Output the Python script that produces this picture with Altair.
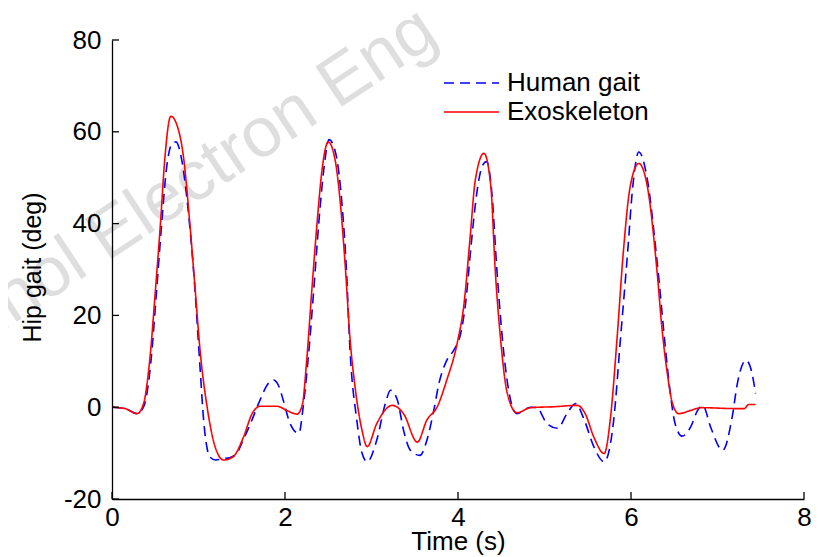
import altair as alt
import pandas as pd

# ---- data ----
human_time = [0, 0.15, 0.29, 0.37, 0.45, 0.51, 0.57, 0.63, 0.69, 0.74, 0.80, 0.88, 0.95, 1.02, 1.06, 1.10,
              1.13, 1.20, 1.29, 1.36, 1.44, 1.52, 1.60, 1.71, 1.80, 1.87, 1.93, 1.98, 2.06, 2.16, 2.21, 2.27,
              2.33, 2.39, 2.45, 2.51, 2.59, 2.66, 2.71, 2.75, 2.83, 2.89, 2.95, 3.06, 3.16, 3.22, 3.30, 3.37,
              3.45, 3.56, 3.64, 3.72, 3.78, 3.87, 3.95, 4.03, 4.09, 4.15, 4.22, 4.28, 4.33, 4.39, 4.45, 4.53,
              4.63, 4.68, 4.84, 4.91, 5.03, 5.15, 5.26, 5.36, 5.46, 5.57, 5.69, 5.80, 5.88, 5.96, 6.02, 6.09,
              6.19, 6.30, 6.42, 6.46, 6.51, 6.59, 6.69, 6.77, 6.83, 6.92, 7.06, 7.17, 7.23, 7.33, 7.40, 7.44]
human_deg = [0, -0.3, -1.4, 0.3, 10, 24, 39, 52, 57.3, 57.8, 54.5, 43, 28, 8, -3, -9,
             -10.8, -11.5, -11.2, -11, -10.1, -7, -3.6, 1.5, 5, 5.9, 4.5, 1.5, -3.6, -5.7, 0, 11,
             25, 40, 52, 58.3, 55, 44, 30, 13, -2.8, -10, -11.9, -7.2, 0.8, 3.7, 1.5, -5,
             -9.4, -10.5, -7.2, -0.7, 5.2, 10.2, 12.4, 16, 23, 35, 47, 52.5, 53.5, 47, 29.8, 11.7,
             0, -1.4, 0, -0.1, -3.6, -4.6, -1.4, 0.8, -2.8, -8.6, -11.9, -2.8, 15.3, 33.5, 48, 55.6,
             49.5, 32, 8.8, 2.2, -3.6, -6.3, -4.3, -0.7, 0.4, -4.3, -9.4, -2.1, 5.2, 10.2, 7.3, 3]

exo_time = [0, 0.15, 0.29, 0.36, 0.44, 0.50, 0.56, 0.61, 0.68, 0.75, 0.83, 0.90, 0.96, 1.02, 1.10, 1.19,
            1.29, 1.40, 1.52, 1.62, 1.71, 1.91, 2.02, 2.14, 2.20, 2.25, 2.31, 2.37, 2.43, 2.50, 2.58, 2.64,
            2.70, 2.75, 2.81, 2.89, 2.95, 3.06, 3.24, 3.37, 3.53, 3.64, 3.76, 3.87, 3.99, 4.07, 4.14, 4.20,
            4.30, 4.38, 4.43, 4.49, 4.57, 4.68, 4.84, 5.11, 5.38, 5.47, 5.57, 5.69, 5.76, 5.84, 5.91, 5.99,
            6.09, 6.19, 6.30, 6.36, 6.42, 6.48, 6.55, 6.69, 6.81, 7.19, 7.31, 7.36, 7.44]
exo_deg = [0, -0.3, -1.4, 0.5, 11, 25, 40, 54, 63.4, 61.5, 54, 40, 26, 12, 0, -8.5,
           -11.5, -10.8, -6.5, -1.4, 0.2, 0.2, -0.7, -1.5, 0.5, 10, 25.5, 40, 52, 57.8, 53.8, 44.4,
           29.8, 15.3, 4.4, -5, -8.6, -3.6, 0.4, -1.4, -7.6, -2.8, 0.1, 5.9, 13.9, 22.6, 37, 49.5,
           55.3, 48, 30, 15.3, 3, -1.2, -0.1, 0.1, 0.4, -1.4, -6.5, -10.1, -2.8, 15.3, 33.5, 48,
           53.1, 48, 29.8, 16.8, 7.3, 0.8, -1.4, -0.7, -0.1, -0.3, -0.3, 0.6, 0.6]

series_names = ["Human gait", "Exoskeleton"]
series_colors = ["#0000ff", "#ff0000"]
series_dashes = [[10, 6], [1, 0]]
x_ticks = [0, 2, 4, 6, 8]
y_ticks = [-20, 0, 20, 40, 60, 80]
watermark = ["Technol Electron Eng"]

# ---- tables ----
df = pd.concat([
    pd.DataFrame({"time": human_time, "deg": human_deg, "series": series_names[0]}),
    pd.DataFrame({"time": exo_time, "deg": exo_deg, "series": series_names[1]}),
], ignore_index=True)

FONT = "Liberation Sans"
W, H = 692, 459

x_scale = alt.Scale(domain=[0, 8], nice=False, zero=False)
y_scale = alt.Scale(domain=[-20, 80], nice=False, zero=False)
x_axis = alt.Axis(values=x_ticks, title="Time (s)", ticks=False, labelPadding=5,
                  titleY=42, titleBaseline="middle", titleFontSize=26,
                  labelFlush=False, zindex=1)
y_axis = alt.Axis(values=y_ticks, title="Hip gait (deg)", ticks=False, labelPadding=11,
                  labelExpr="'' + datum.value", titleX=-80, titleY=227, titleAngle=270,
                  titleBaseline="middle", titleAlign="center", titleFontSize=25,
                  labelFlush=False, zindex=1)

x_enc = alt.X("time:Q", scale=x_scale, axis=x_axis)
y_enc = alt.Y("deg:Q", scale=y_scale, axis=y_axis)

legend = alt.Legend(title=None, orient="none", legendX=363, legendY=30,
                    symbolType="M-4,0H1", symbolSize=484, symbolStrokeWidth=1.5,
                    labelFont=FONT, labelFontSize=26, labelColor="black",
                    rowPadding=3, labelOffset=6, padding=0)

watermark_layer = alt.Chart(pd.DataFrame({"label": watermark})).mark_text(
    font=FONT, fontSize=70, color="#dedede", angle=326.5, align="right",
    baseline="alphabetic"
).encode(text="label:N", x=alt.value(329), y=alt.value(1))

lines = alt.Chart(df).mark_line(strokeWidth=1.6, interpolate="monotone").encode(
    x=x_enc,
    y=y_enc,
    color=alt.Color("series:N", scale=alt.Scale(domain=series_names, range=series_colors), legend=legend),
    strokeDash=alt.StrokeDash("series:N", scale=alt.Scale(domain=series_names, range=series_dashes), legend=legend),
    order=alt.Order("series_order:Q"),
).transform_calculate(series_order="datum.series == 'Human gait' ? 0 : 1")

xtick_layer = alt.Chart(pd.DataFrame({"time": x_ticks})).mark_rule(color="black", strokeWidth=1.3).encode(
    x=x_enc, y=alt.value(H), y2=alt.value(H - 7)
)
ytick_layer = alt.Chart(pd.DataFrame({"deg": y_ticks})).mark_rule(color="black", strokeWidth=1.3).encode(
    y=y_enc, x=alt.value(0), x2=alt.value(7)
)

chart = alt.layer(watermark_layer, lines, xtick_layer, ytick_layer).properties(
    width=W, height=H,
    autosize="none",
    padding={"left": 104, "top": 32, "right": 10, "bottom": 58},
    background="white",
).configure_view(stroke=None).configure_axis(
    grid=False, domainColor="black", domainWidth=1.3,
    labelFont=FONT, labelFontSize=26, labelColor="black",
    titleFont=FONT, titleFontWeight="normal", titleColor="black",
)

chart.save("out.html", embed_options={"renderer": "svg", "actions": False})
